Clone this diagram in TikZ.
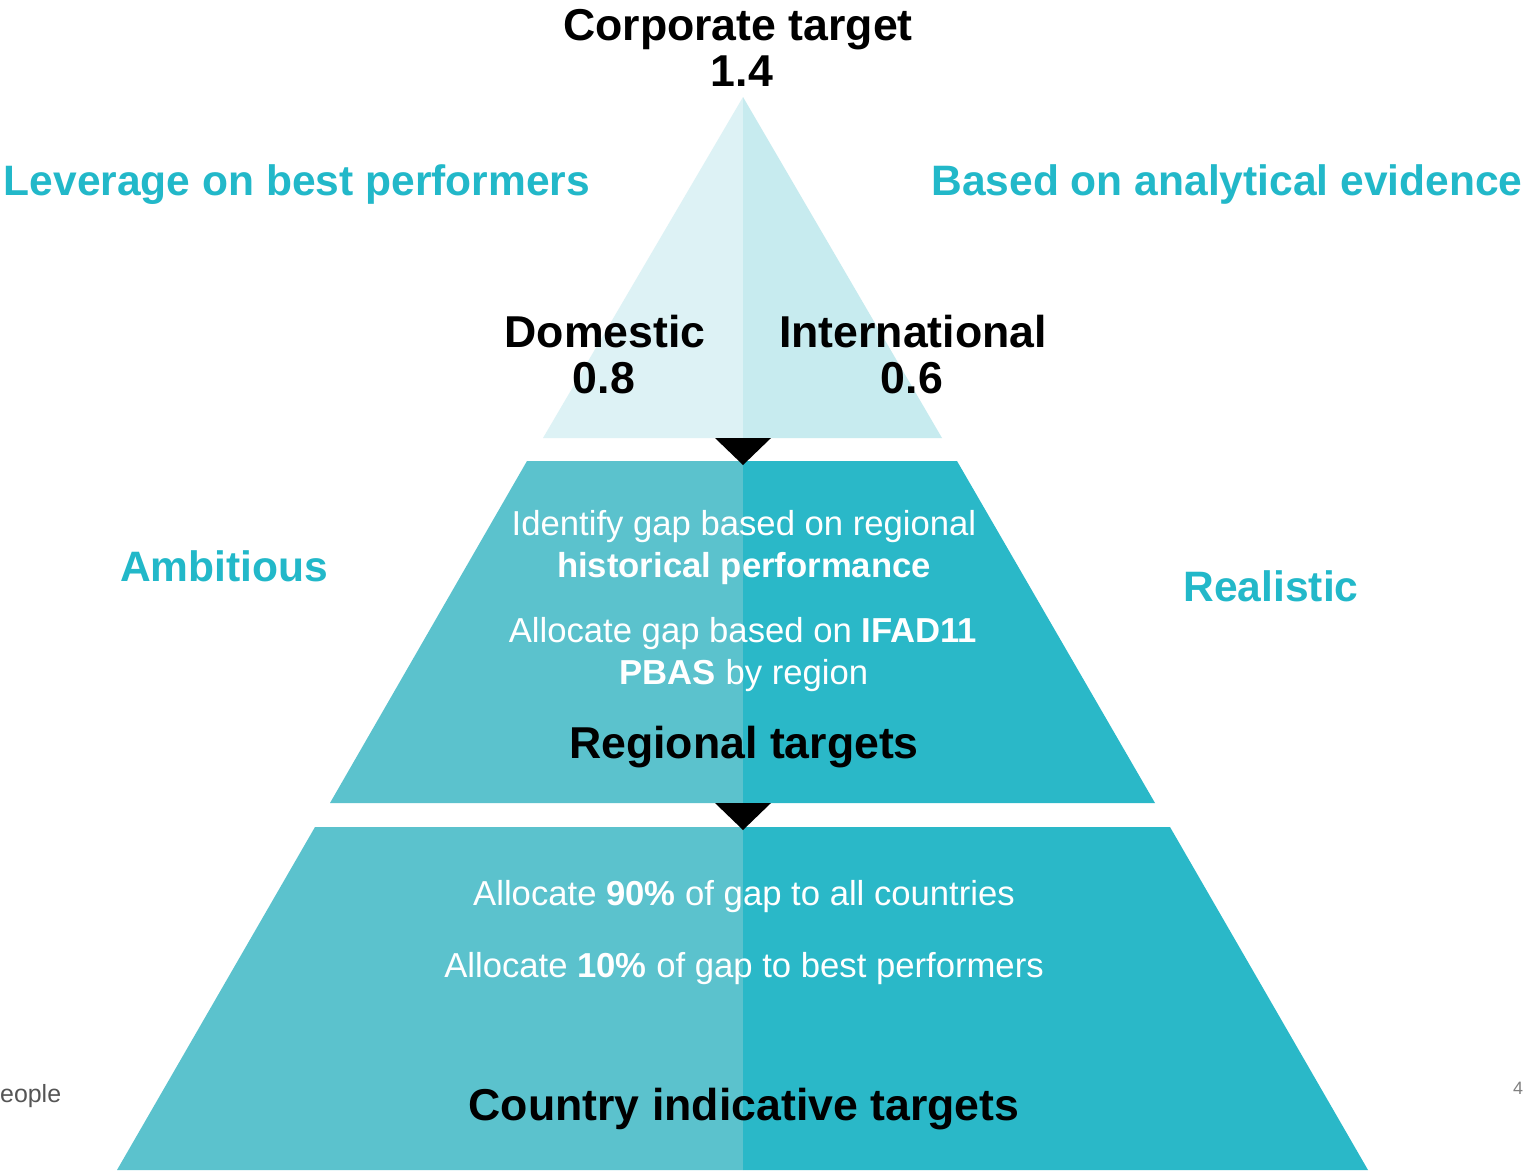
\documentclass[tikz,border=0pt]{standalone}
\usepackage{fontspec}
\setmainfont{Liberation Sans}
\definecolor{topL}{HTML}{DDF2F5}
\definecolor{topR}{HTML}{C7EBEF}
\definecolor{midL}{HTML}{5BC2CD}
\definecolor{midR}{HTML}{2AB8C8}
\definecolor{tealtxt}{HTML}{22B8C9}
\definecolor{foot}{HTML}{555555}
\begin{document}
\begin{tikzpicture}[x=1bp,y=-1bp,
  head/.style={font=\fontsize{44.8}{47}\selectfont\bfseries, text=black, inner sep=0pt, anchor=base},
  side/.style={font=\fontsize{42.7}{45}\selectfont\bfseries, text=tealtxt, inner sep=0pt, anchor=base},
  body/.style={font=\fontsize{34.8}{40}\selectfont, text=white, inner sep=0pt, anchor=base}]
\useasboundingbox (0,0) rectangle (1526,1170);
\fill[white] (0,0) rectangle (1526,1170);
% top tier
\fill[topL] (743,97) -- (543,438) -- (743,438) -- cycle;
\fill[topR] (743,97) -- (942,438) -- (743,438) -- cycle;
% middle tier
\fill[midL] (527,461) -- (743,461) -- (743,803) -- (330,803) -- cycle;
\fill[midR] (743,461) -- (957,461) -- (1155,803) -- (743,803) -- cycle;
% bottom tier
\fill[midL] (315,827) -- (743,827) -- (743,1170) -- (117,1170) -- cycle;
\fill[midR] (743,827) -- (1170,827) -- (1368,1170) -- (743,1170) -- cycle;
% arrow heads between tiers
\fill[black] (715,438) -- (771,438) -- (743,465) -- cycle;
\fill[black] (715,803) -- (771,803) -- (743,830) -- cycle;
% headings
\node[head] (corp) at (738,40) {Corporate target};
\node[head] (corpv) at (742,86) {1.4};
\node[head] (dom) at (605,347) {Domestic};
\node[head] (domv) at (604,393) {0.8};
\node[head] (intl) at (913,347) {International};
\node[head] (intlv) at (912,393) {0.6};
\node[head] (reg) at (744,758) {Regional targets};
\node[head] (cty) at (744,1120) {Country indicative targets};
% side labels
\node[side] (lev) at (297,195) {Leverage on best performers};
\node[side] (bas) at (1227,195) {Based on analytical evidence};
\node[side] (amb) at (224,581) {Ambitious};
\node[side] (rea) at (1271,601) {Realistic};
% body text
\node[body] (r1) at (744,535) {Identify gap based on regional};
\node[body] (r2) at (744,577) {\bfseries historical performance};
\node[body] (r3) at (743,642) {Allocate gap based on \textbf{IFAD11}};
\node[body] (r4) at (744,684) {\textbf{PBAS} by region};
\node[body] (c1) at (744,905) {Allocate \textbf{90\%} of gap to all countries};
\node[body] (c2) at (744,977) {Allocate \textbf{10\%} of gap to best performers};
% footer fragments
\node[font=\fontsize{25}{28}\selectfont, text=foot, inner sep=0pt, anchor=base west] (ppl) at (0,1102) {eople};
\node[font=\fontsize{18}{20}\selectfont, text=gray, inner sep=0pt, anchor=base] (pg) at (1518,1094) {4};
\end{tikzpicture}
\end{document}
